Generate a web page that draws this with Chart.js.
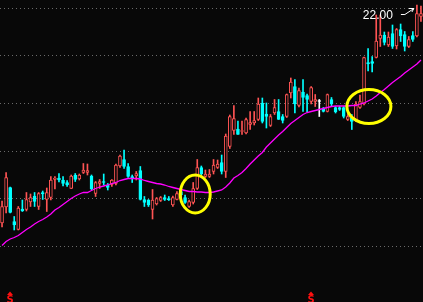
<!DOCTYPE html>
<html>
<head>
<meta charset="utf-8">
<script src="https://cdn.jsdelivr.net/npm/chart.js@4.4.1/dist/chart.umd.min.js"></script>
<style>
  html, body { margin: 0; padding: 0; background: #080808; overflow: hidden; }
  #wrap { width: 423px; height: 302px; position: relative; }
</style>
</head>
<body>
<div id="wrap"><canvas id="kChart"></canvas></div>
<script>
// daily candles
const opens = [17.64,17.96,18.35,17.67,17.51,17.92,17.91,18.06,18.18,17.97, 18.25,18.11,18.15,18.51,18.54,18.50,18.45,18.33,18.60,18.52,
  18.65,18.65,18.58,18.23,18.43,18.47,18.40,18.41,18.43,18.78, 18.91,18.77,18.57,18.58,18.69,18.11,18.10,17.91,18.02,18.09,
  18.15,18.13,18.00,18.11,18.27,18.15,17.97,18.05,18.33,18.75, 18.57,18.57,18.67,18.75,18.85,18.67,19.17,19.49,19.52,19.47,
  19.44,19.61,19.64,19.71,20.04,19.82,19.59,19.84,19.87,19.77, 19.77,20.24,20.37,19.99,20.26,20.19,20.07,20.07,20.07,19.94,
  19.87,20.11,19.95,19.95,19.95,19.71,19.75,19.69,19.95,20.02, 20.85,20.87,20.95,21.33,21.40,21.20,21.43,21.18,21.51,21.41,
  21.17,21.39,21.38,21.77];
const closes = [17.97,18.55,17.85,17.60,17.94,17.88,18.11,18.15,18.07,18.23, 18.22,18.25,18.50,18.54,18.50,18.43,18.40,18.58,18.51,18.60,
  18.70,18.69,18.32,18.45,18.47,18.45,18.35,18.50,18.80,18.98, 18.77,18.57,18.53,18.63,18.11,18.05,18.00,18.10,18.13,18.15,
  18.11,18.10,18.15,18.23,18.20,18.05,18.07,18.33,18.75,18.62, 18.62,18.62,18.80,18.82,18.67,19.38,19.77,19.73,19.41,19.49,
  19.71,19.65,19.69,20.02,19.67,19.77,19.77,19.95,19.71,19.69, 20.21,20.46,20.02,20.29,20.15,20.11,20.35,20.11,20.07,19.87,
  20.21,20.02,19.86,19.91,19.77,19.77,19.67,20.02,20.07,20.95, 20.82,20.83,21.28,21.40,21.25,21.36,21.17,21.51,21.38,21.17,
  21.31,21.31,21.83,21.83];
const highs = [18.08,18.65,18.36,17.77,17.97,18.10,18.25,18.22,18.25,18.25, 18.28,18.34,18.57,18.57,18.63,18.57,18.49,18.60,18.63,18.62,
  18.83,18.82,18.60,18.47,18.51,18.62,18.43,18.51,18.82,19.00, 19.10,18.83,18.60,18.67,18.77,18.17,18.11,18.31,18.15,18.17,
  18.20,18.17,18.18,18.27,18.31,18.20,18.10,18.45,18.91,18.78, 18.70,18.71,18.91,18.90,19.00,19.42,19.80,19.99,19.68,19.68,
  19.74,19.87,19.87,20.14,20.14,20.04,19.81,20.11,20.11,19.81, 20.22,20.54,20.51,20.34,20.51,20.22,20.37,20.21,20.11,19.95,
  20.22,20.15,19.97,19.97,19.97,19.81,19.81,20.07,20.20,20.96, 21.13,20.97,21.80,21.80,21.46,21.46,21.60,21.53,21.62,21.47,
  21.37,21.47,22.00,21.98];
const lows = [17.56,17.84,17.84,17.50,17.50,17.87,17.88,17.97,17.97,17.91, 18.11,17.87,18.10,18.32,18.46,18.38,18.37,18.33,18.47,18.50,
  18.63,18.60,18.30,18.17,18.33,18.40,18.30,18.37,18.40,18.75, 18.73,18.55,18.45,18.50,18.10,17.97,17.97,17.72,18.00,18.07,
  18.09,18.09,17.97,18.10,18.17,18.03,17.95,18.02,18.31,18.60, 18.55,18.55,18.62,18.73,18.62,18.55,19.13,19.41,19.41,19.41,
  19.42,19.51,19.60,19.69,19.64,19.54,19.57,19.81,19.71,19.64, 19.75,20.14,19.84,19.96,19.87,19.86,20.02,19.97,19.77,19.86,
  19.86,19.98,19.84,19.89,19.74,19.69,19.51,19.67,19.93,20.00, 20.68,20.66,20.94,21.17,21.20,21.17,21.13,21.12,21.27,21.08,
  21.15,21.27,21.36,21.67];
// moving average line
const maLine = [17.19,17.27,17.32,17.35,17.39,17.45,17.51,17.56,17.62,17.67, 17.71,17.76,17.82,17.90,17.95,18.01,18.07,18.13,18.18,18.22,
  18.25,18.25,18.29,18.33,18.36,18.38,18.40,18.43,18.45,18.49, 18.51,18.53,18.53,18.53,18.52,18.49,18.47,18.45,18.43,18.42,
  18.40,18.37,18.35,18.33,18.31,18.29,18.27,18.27,18.26,18.26, 18.25,18.25,18.26,18.28,18.30,18.36,18.44,18.54,18.59,18.65,
  18.73,18.82,18.90,18.98,19.05,19.16,19.24,19.32,19.40,19.47, 19.55,19.63,19.69,19.75,19.81,19.85,19.87,19.89,19.91,19.93,
  19.95,19.97,19.98,19.98,19.98,19.98,19.99,19.99,20.02,20.04, 20.08,20.12,20.18,20.25,20.31,20.38,20.45,20.51,20.57,20.64,
  20.70,20.76,20.82,20.90];
// dotted price grid
const gridTicks = [17.17, 18.12, 19.08, 20.03, 20.99, 21.94];
// circled spots (candle index, price) and signal days
const ringDays = [47.5, 90.2];
const ringPrices = [18.22, 19.97];
const signalDays = [3, 77];

const UP = '#ff5454', DOWN = '#00ffff', FLAT = '#ffffff', BG = '#080808';

const days = opens.map((_, i) => i + 1);
const colorOf = i => closes[i] > opens[i] ? UP : (closes[i] < opens[i] ? DOWN : FLAT);
const candleColors = days.map((_, i) => colorOf(i));
const bodyFill = days.map((_, i) => closes[i] > opens[i] ? BG : colorOf(i));

const marksPlugin = {
  id: 'marks',
  afterDatasetsDraw(chart, args, opts) {
    const {ctx, chartArea} = chart;
    const x = chart.scales.x, y = chart.scales.y;
    ctx.save();

    // yellow rings
    ctx.strokeStyle = '#ffff00';
    ctx.lineWidth = 3;
    ringDays.forEach((d, k) => {
      ctx.beginPath();
      ctx.ellipse(x.getPixelForValue(d), y.getPixelForValue(ringPrices[k]),
        opts.ringSize[k][0], opts.ringSize[k][1], 0, 0, Math.PI * 2);
      ctx.stroke();
    });

    // highest price label with arrow
    let top = 0;
    highs.forEach((h, i) => { if (h > highs[top]) top = i; });
    const px = x.getPixelForValue(top), py = y.getPixelForValue(highs[top]);
    ctx.strokeStyle = '#ffffff';
    ctx.lineWidth = 1;
    ctx.beginPath();
    ctx.moveTo(px - 16, py + 9.5);
    ctx.lineTo(px - 12, py + 9.5);
    ctx.lineTo(px - 3, py + 3.5);
    ctx.moveTo(px - 3, py + 3.5);
    ctx.lineTo(px - 8, py + 3.5);
    ctx.moveTo(px - 3, py + 3.5);
    ctx.lineTo(px - 5, py + 7);
    ctx.stroke();
    ctx.fillStyle = '#ffffff';
    ctx.font = '12px "Liberation Sans"';
    ctx.textAlign = 'right';
    ctx.textBaseline = 'alphabetic';
    ctx.fillText(highs[top].toFixed(2), px - 24, py + 13.5);

    // red signal marks at the bottom
    ctx.fillStyle = '#ff1010';
    signalDays.forEach(d => {
      const sx = Math.round(x.getPixelForValue(days.indexOf(d)));
      const by = chartArea.bottom;
      ctx.beginPath();
      ctx.moveTo(sx - 3, by - 7);
      ctx.lineTo(sx, by - 10.5);
      ctx.lineTo(sx + 3, by - 7);
      ctx.closePath();
      ctx.fill();
      ctx.font = 'bold 10px "DejaVu Sans"';
      ctx.textAlign = 'center';
      ctx.textBaseline = 'top';
      ctx.fillText('S', sx, by - 7);
    });
    ctx.restore();
  }
};

new Chart(document.getElementById('kChart'), {
  type: 'bar',
  data: {
    labels: days,
    datasets: [
      {
        type: 'line',
        label: 'MA',
        data: maLine,
        borderColor: '#ff00ff',
        borderWidth: 1.3,
        pointRadius: 0,
        tension: 0,
        order: 0
      },
      {
        label: 'body',
        data: days.map((_, i) => [opens[i], closes[i]]),
        backgroundColor: bodyFill,
        borderColor: candleColors,
        borderWidth: 1,
        borderSkipped: false,
        barThickness: 3,
        minBarLength: 1,
        grouped: false,
        order: 1
      },
      {
        label: 'wick',
        data: days.map((_, i) => [lows[i], highs[i]]),
        backgroundColor: candleColors,
        borderWidth: 0,
        barThickness: 1,
        grouped: false,
        order: 2
      }
    ]
  },
  options: {
    responsive: true,
    maintainAspectRatio: false,
    animation: false,
    layout: { padding: 0 },
    plugins: {
      legend: { display: false },
      tooltip: { enabled: false },
      marks: { ringSize: [[15, 19], [22, 17]] }
    },
    scales: {
      x: { display: false },
      y: {
        min: 16.06,
        max: 22.10,
        afterBuildTicks: axis => { axis.ticks = gridTicks.map(v => ({ value: v })); },
        ticks: { display: false },
        grid: { color: '#6a6a6a', lineWidth: 1, drawTicks: false },
        border: { display: false, dash: [1, 3] }
      }
    }
  },
  plugins: [marksPlugin]
});
</script>
</body>
</html>
